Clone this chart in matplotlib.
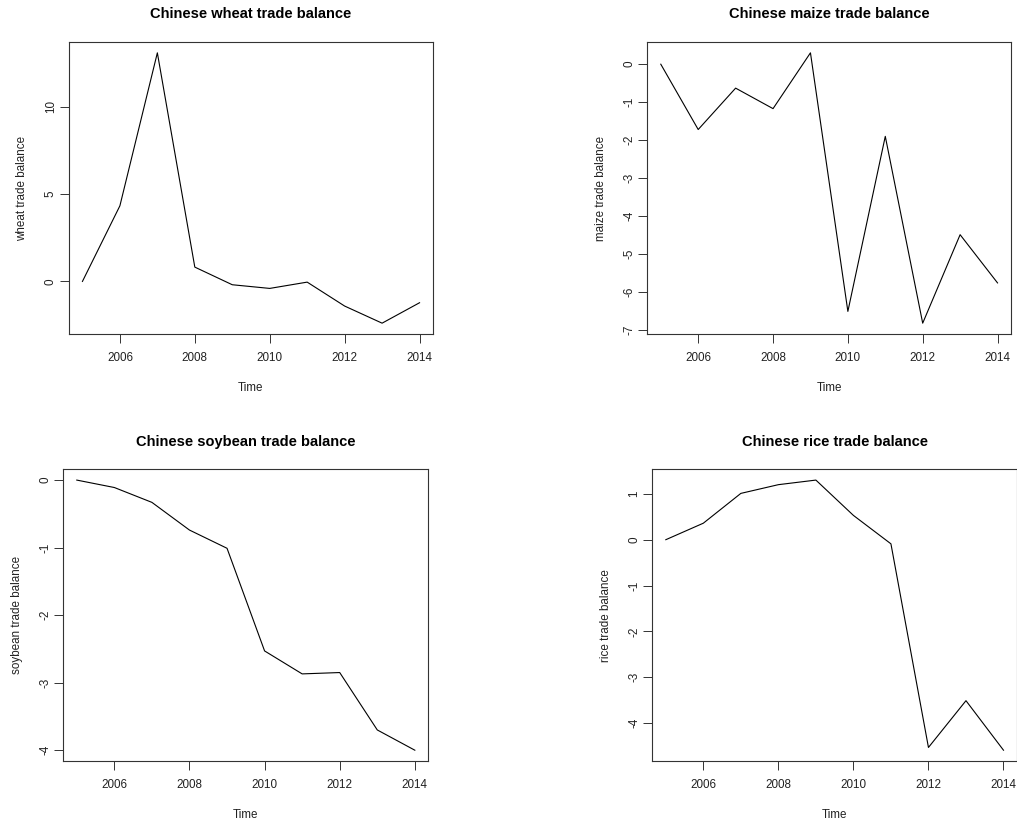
import matplotlib
matplotlib.use('Agg')
import matplotlib.pyplot as plt

plt.rcParams['font.family'] = ['Liberation Sans', 'DejaVu Sans']
plt.rcParams['axes.unicode_minus'] = False

# annees (serie annuelle)
years = [2005, 2006, 2007, 2008, 2009, 2010, 2011, 2012, 2013, 2014]

# balances commerciales
wheat = [0.0, 4.33, 13.09, 0.82, -0.19, -0.40, -0.04, -1.41, -2.39, -1.22]
maize = [0.0, -1.72, -0.63, -1.17, 0.30, -6.51, -1.90, -6.82, -4.49, -5.76]
soybean = [0.0, -0.11, -0.33, -0.74, -1.01, -2.53, -2.87, -2.85, -3.70, -4.00]
rice = [0.0, 0.36, 1.01, 1.20, 1.30, 0.53, -0.09, -4.53, -3.51, -4.59]

xticks = [2006, 2008, 2010, 2012, 2014]
wheat_ticks = [0, 5, 10]
maize_ticks = [0, -1, -2, -3, -4, -5, -6, -7]
soybean_ticks = [0, -1, -2, -3, -4]
rice_ticks = [1, 0, -1, -2, -3, -4]

fig = plt.figure(figsize=(10.17, 8.22), dpi=100)

# positions des panneaux (en fraction de la figure)
positions = [
    [0.0678, 0.5937, 0.358, 0.3552],
    [0.6365, 0.5937, 0.3576, 0.3552],
    [0.0622, 0.0742, 0.359, 0.3549],
    [0.6414, 0.0742, 0.3586, 0.3549],
]

panels = [
    (wheat, wheat_ticks, "Chinese wheat trade balance", "wheat trade balance"),
    (maize, maize_ticks, "Chinese maize trade balance", "maize trade balance"),
    (soybean, soybean_ticks, "Chinese soybean trade balance", "soybean trade balance"),
    (rice, rice_ticks, "Chinese rice trade balance", "rice trade balance"),
]


def plot_ts(ax, values, yticks, title, ylabel):
    ax.plot(years, values, color='black', lw=0.8)
    # comme R : 4% de marge sur chaque axe
    span_x = years[-1] - years[0]
    ax.set_xlim(years[0] - 0.04 * span_x, years[-1] + 0.04 * span_x)
    lo, hi = min(values), max(values)
    ax.set_ylim(lo - 0.04 * (hi - lo), hi + 0.04 * (hi - lo))
    ax.set_xticks(xticks)
    ax.set_yticks(yticks)
    ax.tick_params(axis='both', length=6.2, width=0.7, labelsize=8.4, color='#333333', labelcolor='#222222')
    ax.tick_params(axis='x', pad=6.5)
    ax.tick_params(axis='y', pad=2.5)
    for lab in ax.get_yticklabels():
        lab.set_rotation(90)
        lab.set_verticalalignment('center')
    for s in ax.spines.values():
        s.set_linewidth(0.8)
        s.set_color('#333333')
    ax.set_title(title, fontsize=10.5, fontweight='bold', pad=17)
    ax.set_xlabel("Time", fontsize=8.4, labelpad=13.2, color='#222222')
    ax.set_ylabel(ylabel, fontsize=8.4, labelpad=12, color='#222222')


for pos, (vals, yt, title, ylab) in zip(positions, panels):
    ax = fig.add_axes(pos)
    plot_ts(ax, vals, yt, title, ylab)

plt.savefig('out.png', dpi=100)
